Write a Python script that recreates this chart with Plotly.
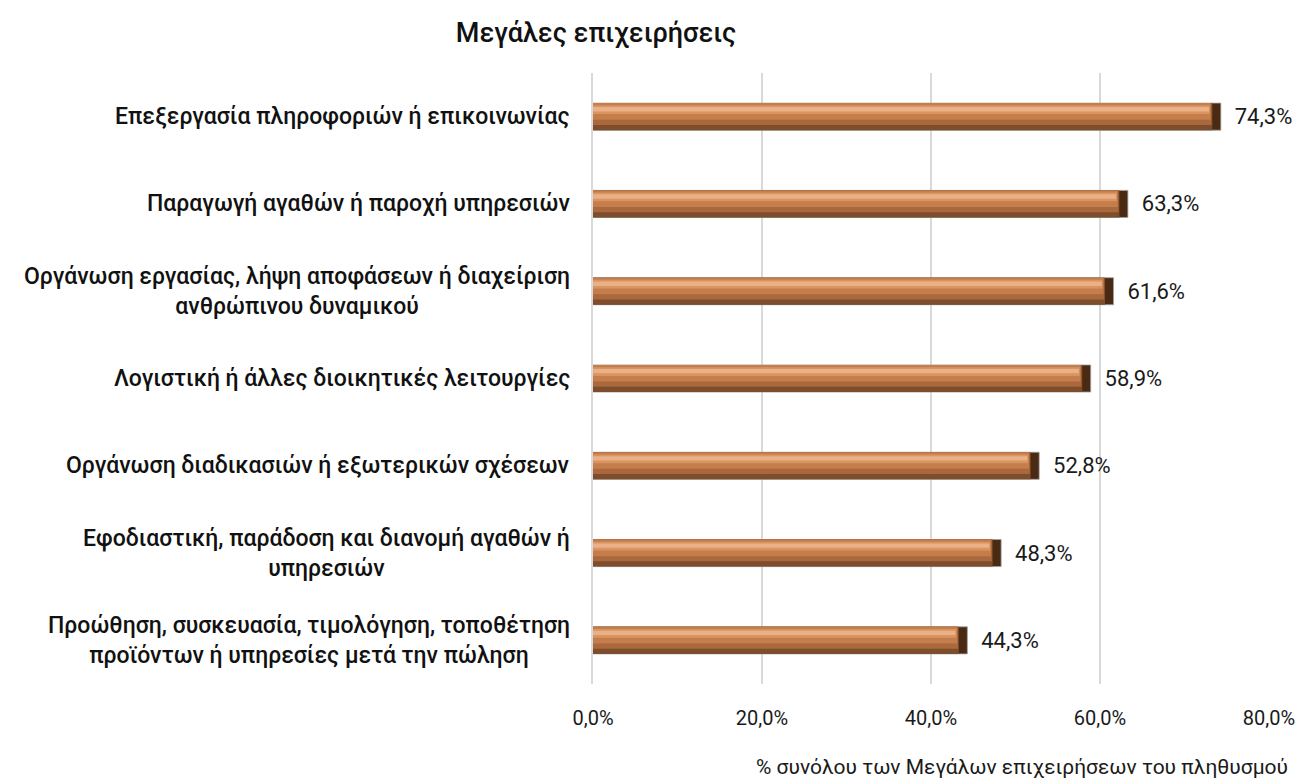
import plotly.graph_objects as go

categories = [
    "Επεξεργασία πληροφοριών ή επικοινωνίας",
    "Παραγωγή αγαθών ή παροχή υπηρεσιών",
    "Οργάνωση εργασίας, λήψη αποφάσεων ή διαχείριση<br>ανθρώπινου δυναμικού",
    "Λογιστική ή άλλες διοικητικές λειτουργίες",
    "Οργάνωση διαδικασιών ή εξωτερικών σχέσεων",
    "Εφοδιαστική, παράδοση και διανομή αγαθών ή<br>υπηρεσιών",
    "Προώθηση, συσκευασία, τιμολόγηση, τοποθέτηση<br>προϊόντων ή υπηρεσίες μετά την πώληση",
]
values = [74.3, 63.3, 61.6, 58.9, 52.8, 48.3, 44.3]
tick_values = [0, 20, 40, 60, 80]

FONT = "Roboto"

fig = go.Figure()

# outer bar carries the value label and the dark bevelled end
fig.add_trace(go.Bar(
    y=categories, x=values, orientation="h", width=0.31, offset=-0.155,
    marker=dict(color="#4a2a12", line=dict(color="#a0a0a0", width=0.8)),
    texttemplate="\u00a0\u00a0%{x:.1f}%", textposition="outside",
    textfont=dict(family=FONT, size=22, color="#1a1a1a"),
    cliponaxis=False, hoverinfo="skip",
))
# copper gradient bands, top to bottom lighter -> darker
layers = [
    (0.31, -0.155, "#7d4d2c", 1.0),
    (0.25, -0.155, "#a9693d", 1.1),
    (0.19, -0.155, "#c47d4b", 1.2),
    (0.10, -0.13, "#d9955f", 1.3),
    (0.05, -0.11, "#eab088", 1.4),
]
for w, off, col, cut in layers:
    fig.add_trace(go.Bar(
        y=categories, x=[v - cut for v in values], orientation="h",
        width=w, offset=off,
        marker=dict(color=col, line=dict(width=0)), hoverinfo="skip",
    ))

fig.update_layout(
    width=1299, height=782,
    barmode="overlay",
    showlegend=False,
    separators=",.",
    paper_bgcolor="#FFFFFF",
    plot_bgcolor="#FFFFFF",
    margin=dict(l=593, r=30, t=73, b=98, autoexpand=False),
    font=dict(family=FONT, color="#1a1a1a"),
    title=dict(
        text="Μεγάλες επιχειρήσεις",
        x=(596 - 593) / 676, xref="paper", xanchor="center",
        y=1 - 33 / 782, yanchor="middle",
        font=dict(family=FONT, size=27, color="#111111", weight=500),
    ),
)
fig.update_xaxes(
    range=[0, 80],
    tickvals=tick_values,
    ticktext=[f"{v:.1f}%".replace(".", ",") for v in tick_values],
    tickfont=dict(family=FONT, size=20, color="#1a1a1a"),
    showgrid=True, gridcolor="#d9d9d9", gridwidth=1.5,
    zeroline=False, showline=False,
    ticks="", ticklabelstandoff=20, automargin=False,
)
fig.update_yaxes(
    autorange="reversed",
    showticklabels=False,
    showgrid=False, zeroline=False,
    showline=True, linecolor="#d9d9d9", linewidth=1.5,
    ticks="", automargin=False,
)
for cat in categories:
    fig.add_annotation(
        text=cat, xref="paper", yref="y", x=0, y=cat,
        xanchor="right", yanchor="middle", xshift=-21, align="center",
        showarrow=False,
        font=dict(family=FONT, size=23, color="#111111", weight=500),
    )
fig.add_annotation(
    text="% συνόλου των Μεγάλων επιχειρήσεων του πληθυσμού",
    xref="paper", yref="paper",
    x=(1290 - 593) / 676, y=-(767 - 684) / 611,
    xanchor="right", yanchor="middle", showarrow=False,
    font=dict(family=FONT, size=21, color="#1a1a1a"),
)

fig.write_html(
    "out.html",
    config={"displayModeBar": False},
    post_script="document.body.style.margin='0';",
)
